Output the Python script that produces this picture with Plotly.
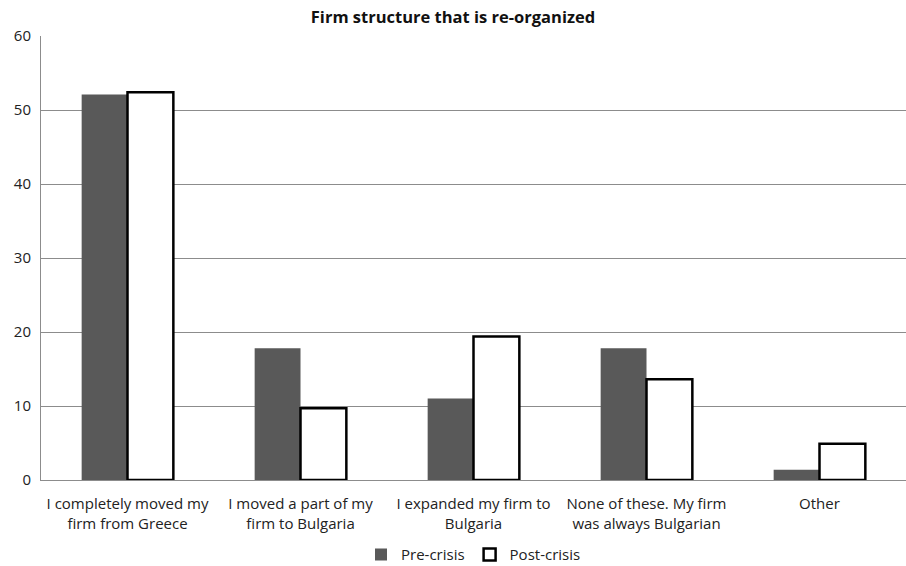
import plotly.graph_objects as go

categories = ["I completely moved my<br>firm from Greece",
              "I moved a part of my<br>firm to Bulgaria",
              "I expanded my firm to<br>Bulgaria",
              "None of these. My firm<br>was always Bulgarian",
              "Other"]
pre_crisis = [52.1, 17.8, 11.0, 17.8, 1.4]
post_crisis = [52.4, 9.7, 19.4, 13.6, 4.9]

fig = go.Figure()
fig.add_trace(go.Bar(x=categories, y=pre_crisis, name="Pre-crisis",
                     marker=dict(color="#595959", line=dict(width=0))))
fig.add_trace(go.Bar(x=categories, y=post_crisis, name="Post-crisis",
                     marker=dict(color="white", line=dict(color="black", width=2.5))))

fig.update_layout(
    width=906, height=566,
    margin=dict(l=41, r=0, t=36, b=86),
    paper_bgcolor="white", plot_bgcolor="white",
    barmode="group", bargap=0.47, bargroupgap=0,
    font=dict(family="Open Sans, Liberation Sans, sans-serif", size=15, color="#222"),
    title=dict(text="<b>Firm structure that is re-organized</b>", x=0.5, xanchor="center",
               y=0.97, yanchor="middle", font=dict(size=16.5, color="#111")),
    showlegend=True,
    legend=dict(orientation="h", x=0.5, xanchor="center", yref="container",
                y=0.02, yanchor="middle",
                font=dict(size=15), itemwidth=30, traceorder="normal",
                tracegroupgap=0, itemclick=False),
)
fig.update_yaxes(range=[0, 60], dtick=10, showgrid=True, gridcolor="#8c8c8c", gridwidth=1,
                 showline=True, linecolor="#8c8c8c", zeroline=False, ticks="",
                 tickfont=dict(size=15), automargin=False, ticklabelstandoff=6)
fig.update_xaxes(showline=True, linecolor="#8c8c8c", ticks="", tickfont=dict(size=15),
                 automargin=False, ticklabelstandoff=10)

fig.write_html("out.html", config={"displayModeBar": False},
               post_script="document.body.style.margin='0';")
